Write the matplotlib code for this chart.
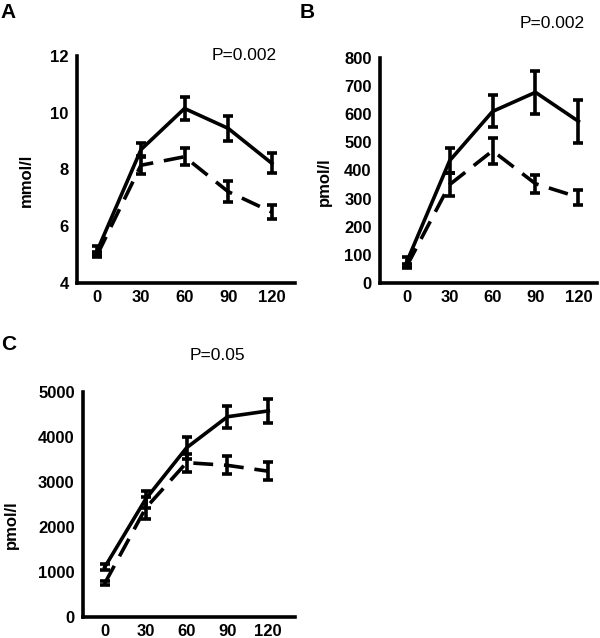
import numpy as np
import matplotlib
matplotlib.use("Agg")
import matplotlib.pyplot as plt

plt.rcParams['font.family'] = ['Liberation Sans', 'DejaVu Sans']

# time points (min)
time = [0, 30, 60, 90, 120]

# panel A: glucose, mmol/l
a_solid = [5.15, 8.7, 10.15, 9.45, 8.22]
a_solid_err = [0.15, 0.22, 0.4, 0.45, 0.35]
a_dash = [5.0, 8.15, 8.45, 7.22, 6.5]
a_dash_err = [0.1, 0.3, 0.3, 0.36, 0.25]

# panel B: pmol/l
b_solid = [75, 435, 610, 678, 575]
b_solid_err = [17, 45, 57, 77, 76]
b_dash = [60, 350, 470, 353, 305]
b_dash_err = [8, 40, 47, 32, 27]

# panel C: pmol/l
c_solid = [1110, 2620, 3760, 4450, 4580]
c_solid_err = [70, 190, 250, 250, 260]
c_dash = [750, 2420, 3430, 3370, 3240]
c_dash_err = [40, 250, 200, 200, 200]

W, H = 600, 638
fig = plt.figure(figsize=(W / 100, H / 100), dpi=100)

def px_axes(l, t, r, b):
    return fig.add_axes([l / W, 1 - b / H, (r - l) / W, (b - t) / H])

lw = 2.6

def draw(ax, solid, serr, dash, derr, ylim, yticks, xlim, ylabel, lab_xy):
    ax.errorbar(time, solid, yerr=serr, color='black', lw=lw, elinewidth=lw,
                capsize=3.8, capthick=lw)
    ln = ax.errorbar(time, dash, yerr=derr, color='black', lw=lw, elinewidth=lw,
                     capsize=3.8, capthick=lw)
    ln[0].set_dashes([5.5, 3.0])
    ax.set_xlim(*xlim)
    ax.set_ylim(*ylim)
    ax.set_xticks(time)
    ax.set_yticks(yticks)
    ax.tick_params(length=0, labelsize=12)
    ax.tick_params(axis='y', pad=6)
    ax.tick_params(axis='x', pad=5)
    for t in ax.get_xticklabels() + ax.get_yticklabels():
        t.set_fontweight('bold')
    for s in ['top', 'right']:
        ax.spines[s].set_visible(False)
    for s in ['left', 'bottom']:
        ax.spines[s].set_linewidth(2.6)
    ax.set_ylabel(ylabel, fontsize=12, fontweight='bold')
    ax.yaxis.set_label_coords(*lab_xy)

axA = px_axes(77, 56, 295, 283)
draw(axA, a_solid, a_solid_err, a_dash, a_dash_err, (4, 12), [4, 6, 8, 10, 12],
     (-14, 136), 'mmol/l', (-0.2, 0.45))

axB = px_axes(380, 58, 597, 283)
draw(axB, b_solid, b_solid_err, b_dash, b_dash_err, (0, 800),
     [0, 100, 200, 300, 400, 500, 600, 700, 800], (-18.7, 133), 'pmol/l', (-0.22, 0.45))

axC = px_axes(83, 392, 295, 617)
draw(axC, c_solid, c_solid_err, c_dash, c_dash_err, (0, 5000),
     [0, 1000, 2000, 3000, 4000, 5000], (-16, 139.6), 'pmol/l', (-0.3, 0.41))

# panel letters
fig.text(0 / W, 1 - 13 / H, 'A', fontsize=15, fontweight='bold', va='center', ha='left')
fig.text(300 / W, 1 - 13 / H, 'B', fontsize=15, fontweight='bold', va='center', ha='left')
fig.text(1 / W, 1 - 345 / H, 'C', fontsize=15, fontweight='bold', va='center', ha='left')

# p values
fig.text(244 / W, 1 - 56 / H, 'P=0.002', fontsize=12.5, va='center', ha='center')
fig.text(552 / W, 1 - 23 / H, 'P=0.002', fontsize=12.5, va='center', ha='center')
fig.text(217 / W, 1 - 355 / H, 'P=0.05', fontsize=12.5, va='center', ha='center')

fig.savefig('out.png', dpi=100)
